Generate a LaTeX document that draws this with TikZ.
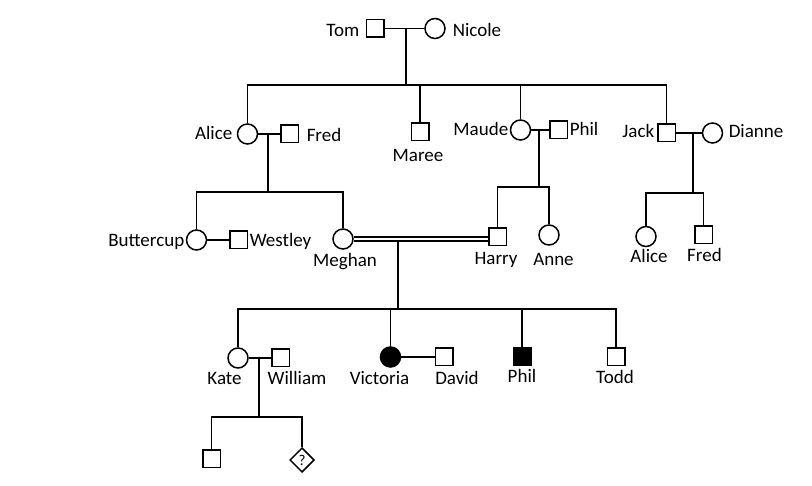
\documentclass[tikz,border=0pt]{standalone}
\usepackage{fontspec}
\setmainfont{Carlito}
\usetikzlibrary{shapes.geometric}
\begin{document}
\begin{tikzpicture}[x=1pt,y=-1pt, line width=1.5pt,
 male/.style={draw, rectangle, minimum size=17.5pt, inner sep=0pt},
 female/.style={draw, circle, minimum size=20pt, inner sep=0pt},
 unknown/.style={draw, diamond, minimum width=24.5pt, minimum height=24.5pt, inner sep=0pt, font=\fontsize{15}{15}\selectfont},
 affected/.style={fill=black},
 lbl/.style={inner sep=0pt, font=\fontsize{19}{21}\selectfont},
 union/.style={double, line width=1.4pt, double distance=2.4pt}
]
\useasboundingbox (0,0) rectangle (812,486);

% generation 1
\node[male] (tom) at (375,28.5) {};
\node[female] (nicole) at (435,28.5) {};
% generation 2
\node[female] (alice) at (247.5,134) {};
\node[male] (fred) at (289.5,134) {};
\node[male] (maree) at (420,132) {};
\node[female] (maude) at (520.5,130) {};
\node[male] (phil) at (558.5,130) {};
\node[male] (jack) at (666.5,133) {};
\node[female] (dianne) at (712.5,133) {};
% generation 3
\node[female] (buttercup) at (196.5,240) {};
\node[male] (westley) at (238.5,240) {};
\node[female] (meghan) at (343,239) {};
\node[male] (harry) at (497.5,237) {};
\node[female] (anne) at (549,235) {};
\node[female] (alice2) at (646,236.5) {};
\node[male] (fred2) at (703.5,235) {};
% generation 4
\node[female] (kate) at (238,358) {};
\node[male] (william) at (280.5,358) {};
\node[female, affected] (victoria) at (390.5,357) {};
\node[male] (david) at (444,357) {};
\node[male, affected] (phil2) at (522,357) {};
\node[male] (todd) at (616,357) {};
% generation 5
\node[male] (c1) at (211.5,459) {};
\node[unknown] (c2) at (302,460) {?};

% junction coordinates
\coordinate (j1) at (406,28.5);  \coordinate (b1) at (406,85);
\coordinate (j2) at (268,134);   \coordinate (b2) at (268,192);
\coordinate (j3) at (539,130);   \coordinate (b3) at (539,187);
\coordinate (j4) at (693,133);   \coordinate (b4) at (693,193);
\coordinate (j5) at (398,240.5); \coordinate (b5) at (398,309);
\coordinate (j6) at (259,358);   \coordinate (b6) at (259,417);

% Tom + Nicole
\draw (tom) -- (nicole);
\draw (j1) -- (b1);
\draw (alice.north) |- (jack.north |- b1) -- (jack.north);
\draw (maree.north) -- (maree.north |- b1);
\draw (maude.north) -- (maude.north |- b1);

% Alice + Fred
\draw (alice) -- (fred);
\draw (j2) -- (b2);
\draw (buttercup.north) |- (meghan.north |- b2) -- (meghan.north);
\draw (buttercup) -- (westley);

% Maude + Phil
\draw (maude) -- (phil);
\draw (j3) -- (b3);
\draw (harry.north) |- (anne.north |- b3) -- (anne.north);

% Jack + Dianne
\draw (jack) -- (dianne);
\draw (j4) -- (b4);
\draw (alice2.north) |- (fred2.north |- b4) -- (fred2.north);

% Meghan = Harry
\draw[union] (meghan.east) -- (harry.west |- meghan.east);
\draw (j5) -- (b5);
\draw (kate.north) |- (todd.north |- b5) -- (todd.north);
\draw (victoria.north) -- (victoria.north |- b5);
\draw (phil2.north) -- (phil2.north |- b5);
\draw (victoria) -- (david);

% Kate + William
\draw (kate) -- (william);
\draw (j6) -- (b6);
\draw (c1.north) |- (c2.north |- b6) -- (c2.north);

% labels
\node[lbl, anchor=base east] (ltom) at (360,37) {Tom};
\node[lbl, anchor=base west] (lnicole) at (452,37) {Nicole};
\node[lbl, anchor=base east] (lalice) at (233,140) {Alice};
\node[lbl, anchor=base west] (lfred) at (306,142) {Fred};
\node[lbl, anchor=base] (lmaree) at (418,162) {Maree};
\node[lbl, anchor=base east] (lmaude) at (509,136) {Maude};
\node[lbl, anchor=base west] (lphil) at (569,136) {Phil};
\node[lbl, anchor=base east] (ljack) at (655,138) {Jack};
\node[lbl, anchor=base west] (ldianne) at (728,138) {Dianne};
\node[lbl, anchor=base east] (lbuttercup) at (185,247) {Buttercup};
\node[lbl, anchor=base west] (lwestley) at (249,247) {Westley};
\node[lbl, anchor=base] (lmeghan) at (345,267) {Meghan};
\node[lbl, anchor=base] (lharry) at (496,265) {Harry};
\node[lbl, anchor=base] (lanne) at (553.5,266) {Anne};
\node[lbl, anchor=base] (lalice2) at (649,263) {Alice};
\node[lbl, anchor=base] (lfred2) at (704.5,262) {Fred};
\node[lbl, anchor=base] (lkate) at (224.5,385) {Kate};
\node[lbl, anchor=base] (lwilliam) at (297,385) {William};
\node[lbl, anchor=base] (lvictoria) at (379.5,385) {Victoria};
\node[lbl, anchor=base] (ldavid) at (457,385) {David};
\node[lbl, anchor=base] (lphil2) at (522,383) {Phil};
\node[lbl, anchor=base] (ltodd) at (615,384) {Todd};
\end{tikzpicture}
\end{document}
